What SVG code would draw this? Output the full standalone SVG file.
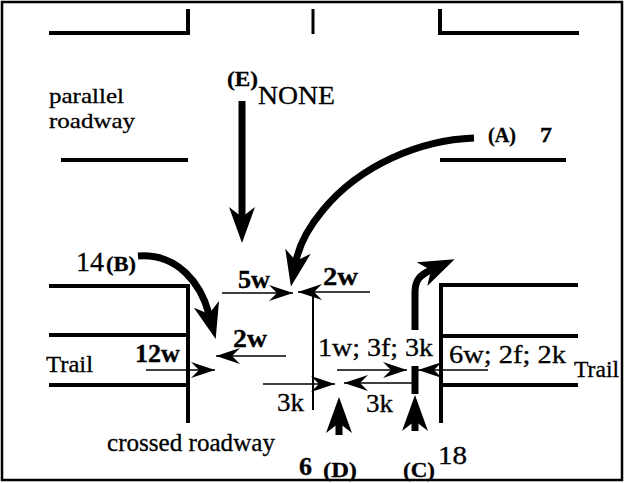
<svg xmlns="http://www.w3.org/2000/svg" width="625" height="483" viewBox="0 0 625 483" font-family="'Liberation Serif', 'Times New Roman', serif">
<style>
text{font-family:'Liberation Serif','Times New Roman',serif;fill:#000;stroke:#000;stroke-width:0.3}
.b{font-weight:bold}
.road{fill:none;stroke:#000;stroke-width:4;stroke-linejoin:miter}
.thin{fill:none;stroke:#000;stroke-width:1.3}
.thick{fill:none;stroke:#000;stroke-width:7}
</style>
<defs>
<marker id="ah" markerUnits="userSpaceOnUse" viewBox="0 -8 24 16" markerWidth="24" markerHeight="16" refX="24" refY="0" orient="auto">
<path d="M0,-8 L24,0 L0,8 L8,0 Z" fill="#000"/>
</marker>
<marker id="AH" markerUnits="userSpaceOnUse" viewBox="0 -13 36 26" markerWidth="36" markerHeight="26" refX="10" refY="0" orient="auto">
<path d="M0,-13 L36,0 L0,13 L10,0 Z" fill="#000"/>
</marker>
</defs>
<rect x="2" y="2" width="620" height="478" fill="#fff" stroke="#000" stroke-width="2.5"/>
<g id="roads">
<polyline class="road" points="49,33 188,33 188,9"/>
<line x1="313" y1="9" x2="313" y2="34" stroke="#000" stroke-width="3"/>
<polyline class="road" points="440,9 440,33 579,33"/>
<line class="road" x1="61" y1="160" x2="188" y2="160"/>
<line class="road" x1="440" y1="160" x2="566" y2="160"/>
<polyline class="road" points="49,286 188,286 188,423"/>
<line class="road" x1="49" y1="335" x2="188" y2="335"/>
<line class="road" x1="49" y1="385" x2="188" y2="385"/>
<polyline class="road" points="578,285 441,285 441,423"/>
<line class="road" x1="441" y1="336" x2="578" y2="336"/>
<line class="road" x1="441" y1="385" x2="578" y2="385"/>
</g>
<g id="labels">
<text x="49" y="103" font-size="22" textLength="75" lengthAdjust="spacingAndGlyphs">parallel</text>
<text x="49" y="128" font-size="22" textLength="86" lengthAdjust="spacingAndGlyphs">roadway</text>
<text x="46" y="372" font-size="23" textLength="47" lengthAdjust="spacingAndGlyphs">Trail</text>
<text x="574" y="377" font-size="23" textLength="45" lengthAdjust="spacingAndGlyphs">Trail</text>
<text x="107" y="451" font-size="25" textLength="168" lengthAdjust="spacingAndGlyphs">crossed roadway</text>
</g>
<g id="approach-E">
<text class="b" x="227" y="86" font-size="22" textLength="31" lengthAdjust="spacingAndGlyphs">(E)</text>
<text x="258" y="104" font-size="26" textLength="77" lengthAdjust="spacingAndGlyphs">NONE</text>
</g>
<g id="approach-A">
<text class="b" x="488" y="142" font-size="20" textLength="28" lengthAdjust="spacingAndGlyphs">(A)</text>
<text class="b" x="540" y="142" font-size="21" textLength="12" lengthAdjust="spacingAndGlyphs">7</text>
</g>
<g id="approach-B">
<text x="76" y="271" font-size="27" textLength="28" lengthAdjust="spacingAndGlyphs">14</text>
<text class="b" x="106" y="271" font-size="22" textLength="30" lengthAdjust="spacingAndGlyphs">(B)</text>
</g>
<g id="approach-D">
<text class="b" x="299" y="475" font-size="25" textLength="13" lengthAdjust="spacingAndGlyphs">6</text>
<text class="b" x="323" y="477" font-size="22" textLength="34" lengthAdjust="spacingAndGlyphs">(D)</text>
</g>
<g id="approach-C">
<text class="b" x="403" y="477" font-size="22" textLength="32" lengthAdjust="spacingAndGlyphs">(C)</text>
<text x="438" y="464" font-size="26" textLength="29" lengthAdjust="spacingAndGlyphs">18</text>
</g>
<g id="crossing-labels">
<text class="b" x="238" y="288" font-size="25" textLength="32" lengthAdjust="spacingAndGlyphs">5w</text>
<text class="b" x="323" y="285" font-size="25" textLength="35" lengthAdjust="spacingAndGlyphs">2w</text>
<text class="b" x="233" y="347" font-size="25" textLength="34" lengthAdjust="spacingAndGlyphs">2w</text>
<text class="b" x="135" y="362" font-size="25" textLength="45" lengthAdjust="spacingAndGlyphs">12w</text>
<text x="318" y="356" font-size="25" textLength="115" lengthAdjust="spacingAndGlyphs">1w; 3f; 3k</text>
<text x="449" y="363" font-size="25" textLength="117" lengthAdjust="spacingAndGlyphs">6w; 2f; 2k</text>
<text x="277" y="411" font-size="25" textLength="27" lengthAdjust="spacingAndGlyphs">3k</text>
<text x="366" y="412" font-size="25" textLength="27" lengthAdjust="spacingAndGlyphs">3k</text>
</g>
<g id="connectors">
<path class="thick" d="M242,101 V217" marker-end="url(#AH)"/>
<path class="thick" d="M474,138 C420,140 360,165 323,210 C308,228 299,246 296,261" marker-end="url(#AH)"/>
<path class="thick" d="M138,256 C178,253 201,284 209,314" marker-end="url(#AH)"/>
<path class="thick" d="M415,330 V292 C415,280 420,275 431,270" marker-end="url(#AH)"/>
<path class="thick" d="M415,366 V394"/>
<path class="thick" d="M415,431 V421" marker-end="url(#AH)"/>
<path class="thick" d="M339,435 V423" marker-end="url(#AH)"/>
<line x1="313" y1="293" x2="313" y2="410" stroke="#000" stroke-width="2"/>
<path class="thin" d="M222,293 H293" marker-end="url(#ah)"/>
<path class="thin" d="M370,292 H298" marker-end="url(#ah)"/>
<path class="thin" d="M286,356 H216" marker-end="url(#ah)"/>
<path class="thin" d="M146,370 H215" marker-end="url(#ah)"/>
<path class="thin" d="M263,384 H335" marker-end="url(#ah)"/>
<path class="thin" d="M413,383 H344" marker-end="url(#ah)"/>
<path class="thin" d="M337,370 H407" marker-end="url(#ah)"/>
<path class="thin" d="M488,370 H418" marker-end="url(#ah)"/>
</g>
</svg>
